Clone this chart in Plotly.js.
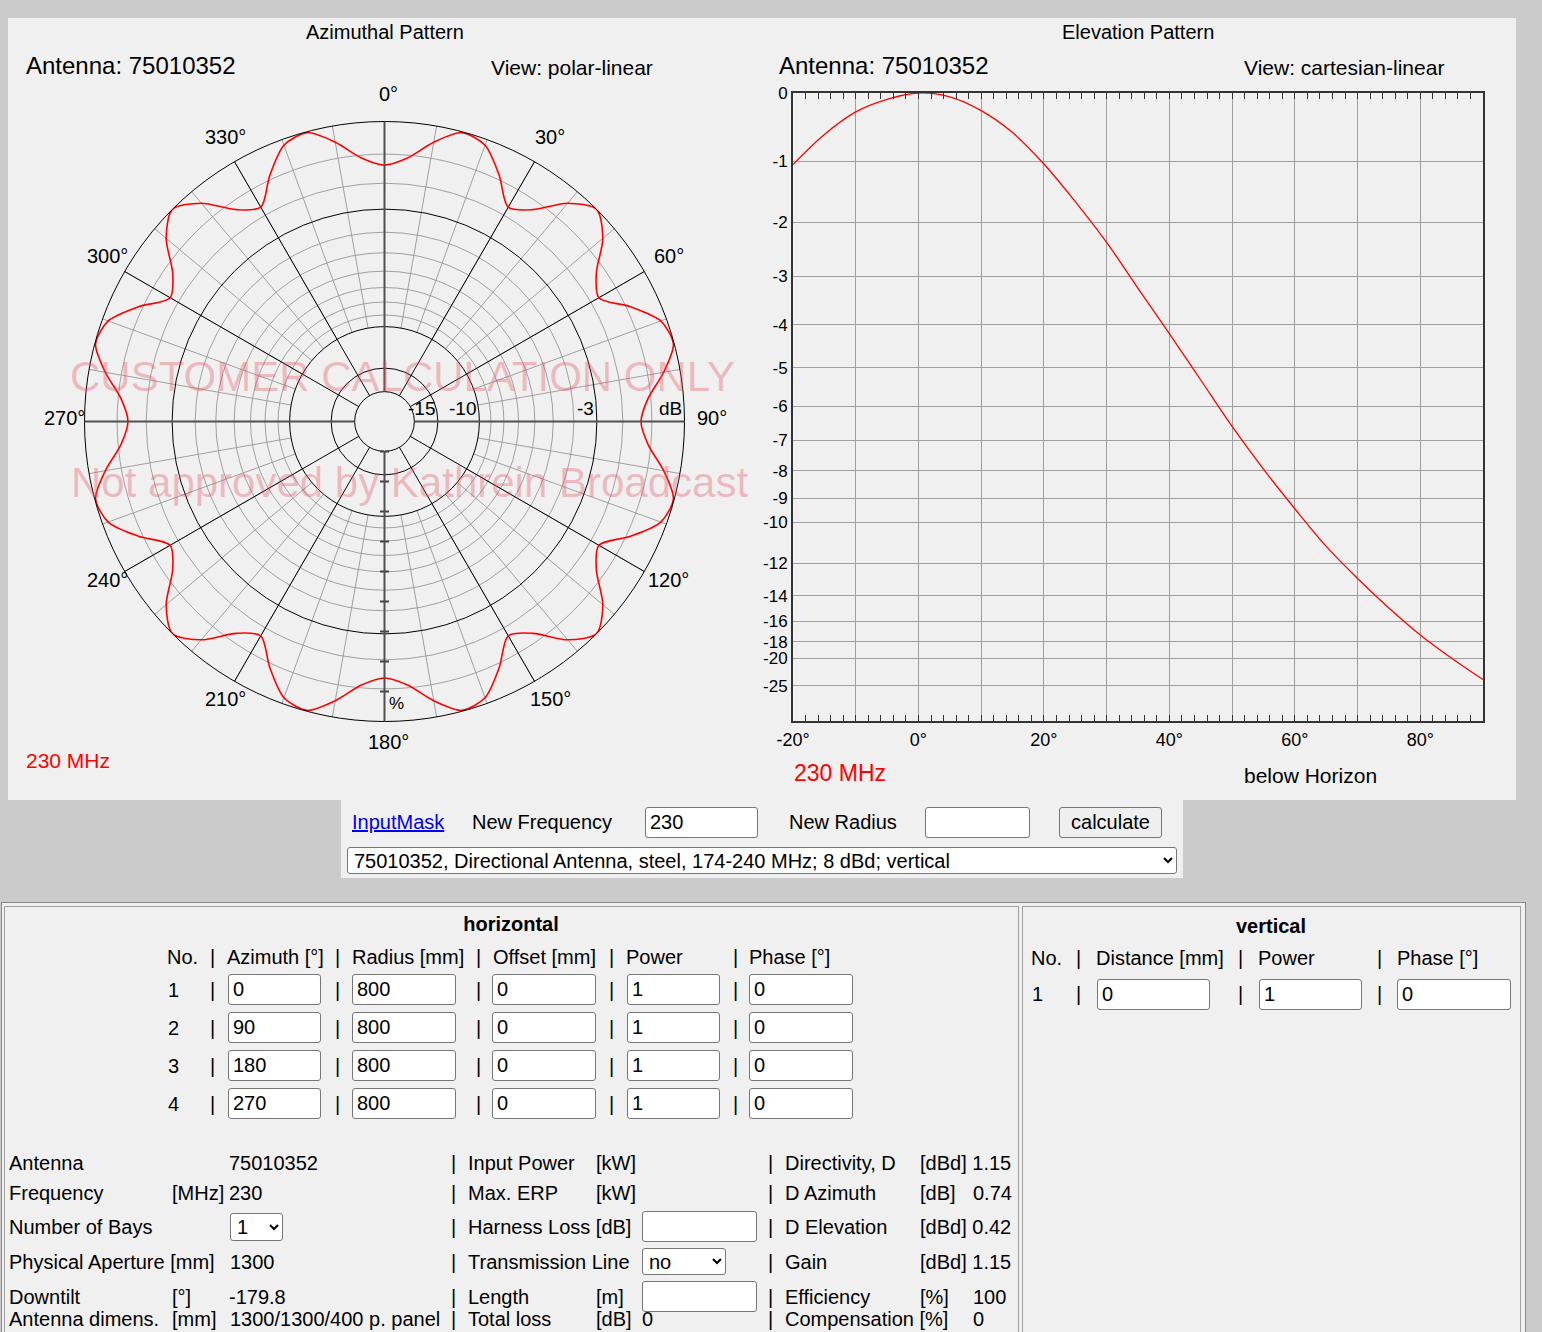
<!DOCTYPE html>
<html>
<head>
<meta charset="utf-8">
<script src="https://cdn.plot.ly/plotly-3.0.1.min.js"></script>
<style>
  html, body { margin:0; padding:0; }
  body { width:1542px; height:1332px; background:#cbcbcb; position:relative; overflow:hidden;
         font-family:'Liberation Sans', Arial, sans-serif; }
  .panel { position:absolute; background:#f0f0f0; }
  .t { position:absolute; font-size:20px; line-height:24px; white-space:pre; color:#000; }
  .inp { position:absolute; box-sizing:border-box; background:#fff; border:1px solid #767676; border-radius:3px;
         font:20px 'Liberation Sans', Arial, sans-serif; padding:0 4px; color:#000; margin:0; }
  .sel { position:absolute; box-sizing:border-box; background:#fff; border:1px solid #767676; border-radius:3px;
         font:20px 'Liberation Sans', Arial, sans-serif; padding:0 2px; color:#000; margin:0; }
  .btn { position:absolute; box-sizing:border-box; background:#efefef; border:1px solid #767676; border-radius:3px;
         font:20px 'Liberation Sans', Arial, sans-serif; color:#000; margin:0; padding:0; }
</style>
</head>
<body>
<div class="panel" style="left:8px;top:18px;width:1508px;height:782px;">
  <div id="chart" style="width:1508px;height:782px;"></div>
</div>
<div class="panel" style="left:341px;top:800px;width:842px;height:78px;"></div>
<div class="panel" style="left:1px;top:902px;width:1523px;height:440px;border:1px solid #8a8a8a;"></div>
<div class="panel" style="left:4px;top:906px;width:1013px;height:440px;border:1px solid #a0a0a0;"></div>
<div class="panel" style="left:1022px;top:906px;width:497px;height:440px;border:1px solid #a0a0a0;"></div>
<script>
// ---------------- data ----------------
const azimuthDeg = [0,5,10,15,20,25,30,35,40,45,50,55,60,65,70,75,80,85,
  90,95,100,105,110,115,120,125,130,135,140,145,150,155,160,165,170,175,
  180,185,190,195,200,205,210,215,220,225,230,235,240,245,250,255,260,265,
  270,275,280,285,290,295,300,305,310,315,320,325,330,335,340,345,350,355,360];
const azimuthRelField = [0.855,0.882,0.945,0.997,0.980,0.905,0.825,0.862,0.950,1.000,0.950,0.862,0.825,0.905,0.980,0.997,0.945,0.882,
  0.855,0.882,0.945,0.997,0.980,0.905,0.825,0.862,0.950,1.000,0.950,0.862,0.825,0.905,0.980,0.997,0.945,0.882,
  0.855,0.882,0.945,0.997,0.980,0.905,0.825,0.862,0.950,1.000,0.950,0.862,0.825,0.905,0.980,0.997,0.945,0.882,
  0.855,0.882,0.945,0.997,0.980,0.905,0.825,0.862,0.950,1.000,0.950,0.862,0.825,0.905,0.980,0.997,0.945,0.882,0.855];

const elevationDeg = [-20,-15,-10,-5,0,5,10,15,20,25,30,35,40,45,50,55,60,65,70,75,80,85,90];
const elevationRelField = [0.886,0.934,0.970,0.990,1.000,0.994,0.972,0.937,0.887,0.827,0.762,0.689,0.617,0.543,0.469,0.401,0.338,0.278,0.227,0.180,0.137,0.100,0.066];

const angularLabelDeg = [0,30,60,90,120,150,180,210,240,270,300,330];
const polarGrayRingsDb = [-1,-2,-4,-5,-6,-7,-8,-9];
const polarBlackRingsDb = [-20,-15,-10,-3];
const ringLabelDb = [-15,-10,-3,0];
const ringLabelText = ['-15','-10','-3','dB'];
const percentTicks = [0.1,0.2,0.3,0.4,0.5,0.6,0.7,0.8,0.9];

const elevXTickVals = [-20,-10,0,10,20,30,40,50,60,70,80,90];
const elevXTickText = ['-20°','','0°','','20°','','40°','','60°','','80°',''];
const elevYTickDb = [0,-1,-2,-3,-4,-5,-6,-7,-8,-9,-10,-12,-14,-16,-18,-20,-25];
const elevYTickText = ['0','-1','-2','-3','-4','-5','-6','-7','-8','-9','-10','-12','-14','-16','-18','-20','-25'];

// ---------------- helpers ----------------
const W = 1508, H = 782, OX = 8, OY = 18;
const px = X => (X - OX) / W;
const py = Y => 1 - (Y - OY) / H;
const amp = db => Math.pow(10, db / 20);
const FONT = 'Liberation Sans, Arial, sans-serif';
const polarCx = 384.5, polarCy = 421.5, polarR = 300;
const polarDomain = { x: [px(polarCx - polarR), px(polarCx + polarR)], y: [py(polarCy + polarR), py(polarCy - polarR)] };
const innerR = 0.0995;
// angular labels sit on a circle slightly offset from the plot centre, as in the original
const labelCx = 388, labelCy = 418, labelR = 324;

const traces = [
  { type:'scatterpolar', subplot:'polar', r:azimuthRelField, theta:azimuthDeg, mode:'lines',
    opacity:0, hoverinfo:'skip', showlegend:false },
  { type:'scatterpolar', subplot:'polar3', r:azimuthRelField, theta:azimuthDeg, mode:'lines',
    opacity:0, hoverinfo:'skip', showlegend:false },
  { type:'scatterpolar', subplot:'polar4', r:azimuthRelField, theta:azimuthDeg, mode:'lines',
    opacity:0, hoverinfo:'skip', showlegend:false },
  { type:'scatterpolar', subplot:'polar2', r:azimuthRelField, theta:azimuthDeg, mode:'lines',
    line:{ color:'#ff0000', width:1.6, shape:'spline', smoothing:0.8 }, showlegend:false },
  { type:'scatter', x:elevationDeg, y:elevationRelField, mode:'lines', xaxis:'x', yaxis:'y',
    line:{ color:'#ff0000', width:1.3, shape:'spline', smoothing:1 }, showlegend:false }
];

const hiddenAngular = { rotation:90, direction:'clockwise', showgrid:false, showline:false, showticklabels:false, ticks:'' };

const annotations = [
  { text:'Azimuthal Pattern', x:px(385), y:py(32), xanchor:'center', yanchor:'middle', font:{size:20} },
  { text:'Antenna: 75010352', x:px(24), y:py(66), xanchor:'left', yanchor:'middle', font:{size:24} },
  { text:'View: polar-linear', x:px(489), y:py(67), xanchor:'left', yanchor:'middle', font:{size:21} },
  { text:'230 MHz', x:px(24), y:py(760), xanchor:'left', yanchor:'middle', font:{size:21, color:'#ff0000'} },
  { text:'%', x:px(396), y:py(703), xanchor:'center', yanchor:'middle', font:{size:17} },
  { text:'Elevation Pattern', x:px(1138), y:py(32), xanchor:'center', yanchor:'middle', font:{size:20} },
  { text:'Antenna: 75010352', x:px(777), y:py(66), xanchor:'left', yanchor:'middle', font:{size:24} },
  { text:'View: cartesian-linear', x:px(1242), y:py(67), xanchor:'left', yanchor:'middle', font:{size:21} },
  { text:'230 MHz', x:px(792), y:py(773), xanchor:'left', yanchor:'middle', font:{size:23, color:'#ff0000'} },
  { text:'below Horizon', x:px(1242), y:py(775), xanchor:'left', yanchor:'middle', font:{size:21} },
  { text:'CUSTOMER CALCULATION ONLY', x:px(402), y:py(377), xanchor:'center', yanchor:'middle',
    font:{size:42, color:'rgba(228,80,92,0.34)'} },
  { text:'Not approved by Kathrein Broadcast', x:px(409), y:py(482), xanchor:'center', yanchor:'middle',
    font:{size:42, color:'rgba(228,80,92,0.34)'} }
];
angularLabelDeg.forEach(d => {
  const a = d * Math.PI / 180;
  annotations.push({ text: d + '°', x: px(labelCx + labelR * Math.sin(a)), y: py(labelCy - labelR * Math.cos(a)),
    xanchor:'center', yanchor:'middle', font:{size:20} });
});
// dB ring labels: right-aligned just inside their ring, above the 90° spoke
ringLabelDb.forEach((db, i) => {
  annotations.push({ text: ringLabelText[i], x: px(polarCx + amp(db) * polarR - 2), y: py(408),
    xanchor:'right', yanchor:'middle', font:{size:19}, borderpad:0 });
});

const layout = {
  width: W, height: H,
  margin: { l:0, r:0, t:0, b:0 },
  paper_bgcolor: '#f0f0f0', plot_bgcolor: '#f0f0f0',
  font: { family: FONT, color: '#000' },
  showlegend: false,
  polar: {
    domain: polarDomain, bgcolor: 'rgba(0,0,0,0)', hole: amp(-10),
    radialaxis: { range:[amp(-10), 1], tickmode:'array', tickvals: polarGrayRingsDb.map(amp),
      showticklabels:false, ticks:'', showline:false, gridcolor:'#a0a0a0', gridwidth:1 },
    angularaxis: { rotation:90, direction:'clockwise', tickmode:'linear', tick0:0, dtick:10,
      showticklabels:false, ticks:'', showline:false, gridcolor:'#a0a0a0', gridwidth:1 }
  },
  polar2: {
    domain: polarDomain, bgcolor: 'rgba(0,0,0,0)', hole: innerR,
    radialaxis: { range:[innerR, 1], tickmode:'array', tickvals: polarBlackRingsDb.map(amp),
      showticklabels:false, ticks:'', showline:false, gridcolor:'#000', gridwidth:1 },
    angularaxis: { rotation:90, direction:'clockwise', tickmode:'linear', tick0:0, dtick:30,
      showticklabels:false, ticks:'',
      showline:true, linecolor:'#000', linewidth:1, gridcolor:'#000', gridwidth:1 }
  },
  polar3: {
    domain: polarDomain, bgcolor: 'rgba(0,0,0,0)', hole: innerR,
    radialaxis: { range:[innerR, 1], angle:270, side:'clockwise', tickmode:'array', tickvals: percentTicks,
      showticklabels:false, ticks:'outside', ticklen:4, tickwidth:2, tickcolor:'#444', showline:false, showgrid:false },
    angularaxis: { rotation:90, direction:'clockwise', tickmode:'linear', tick0:0, dtick:90,
      showticklabels:false, ticks:'', showline:false, gridcolor:'#505050', gridwidth:2 }
  },
  polar4: {
    domain: polarDomain, bgcolor: 'rgba(0,0,0,0)', hole: innerR,
    radialaxis: { range:[innerR, 1], angle:270, side:'counterclockwise', tickmode:'array', tickvals: percentTicks,
      showticklabels:false, ticks:'outside', ticklen:4, tickwidth:2, tickcolor:'#444', showline:false, showgrid:false },
    angularaxis: hiddenAngular
  },
  xaxis: {
    domain: [px(793), px(1483)], anchor:'y', range:[-20, 90], tickmode:'array',
    tickvals: elevXTickVals, ticktext: elevXTickText,
    ticks:'inside', ticklen:6, tickcolor:'#333', tickwidth:1,
    showline:true, linecolor:'#333', linewidth:2, mirror:'ticks',
    showgrid:true, gridcolor:'#a0a0a0', gridwidth:1, zeroline:false,
    tickfont:{ size:18, color:'#000' }, ticklabelstandoff:1,
    minor:{ tickmode:'linear', tick0:0, dtick:2, ticks:'inside', ticklen:6, tickcolor:'#333', tickwidth:1, showgrid:false }
  },
  yaxis: {
    domain: [py(721), py(93)], anchor:'x', range:[0, 1], tickmode:'array',
    tickvals: elevYTickDb.map(amp), ticktext: elevYTickText,
    ticks:'', showline:true, linecolor:'#333', linewidth:2, mirror:true,
    showgrid:true, gridcolor:'#a0a0a0', gridwidth:1, zeroline:false,
    tickfont:{ size:17, color:'#000' }, ticklabelstandoff:0
  },
  annotations: annotations.map(a => Object.assign({ xref:'paper', yref:'paper', showarrow:false }, a))
};

Plotly.newPlot('chart', traces, layout, { staticPlot:true, displayModeBar:false });

// ---------------- form (page content around the charts) ----------------
function T(x, yc, s, extra) {
  const d = document.createElement('div');
  d.className = 't'; d.style.left = x + 'px'; d.style.top = (yc - 12) + 'px';
  d.textContent = s; if (extra) Object.assign(d.style, extra);
  document.body.appendChild(d); return d;
}
function I(x, y, w, h, v) {
  const e = document.createElement('input'); e.className = 'inp'; e.type = 'text'; e.value = v;
  Object.assign(e.style, { left:x+'px', top:y+'px', width:w+'px', height:h+'px' });
  document.body.appendChild(e);
}
function S(x, y, w, h, v) {
  const e = document.createElement('select'); e.className = 'sel';
  const o = document.createElement('option'); o.textContent = v; e.appendChild(o);
  Object.assign(e.style, { left:x+'px', top:y+'px', width:w+'px', height:h+'px' });
  document.body.appendChild(e);
}
// middle bar
T(352, 822, 'InputMask', { color:'#0000ee', textDecoration:'underline' });
T(472, 822, 'New Frequency');
I(645, 807, 113, 31, '230');
T(789, 822, 'New Radius');
I(925, 807, 105, 31, '');
(function(){ const b = document.createElement('button'); b.className='btn'; b.textContent='calculate';
  Object.assign(b.style, { left:'1059px', top:'807px', width:'103px', height:'31px' }); document.body.appendChild(b); })();
S(347, 847, 830, 27, '75010352, Directional Antenna, steel, 174-240 MHz; 8 dBd; vertical');

// horizontal cell
T(511, 924, 'horizontal', { fontWeight:'bold', transform:'translateX(-50%)' });
const hHead = [[167,'No.'],[210,'|'],[227,'Azimuth [°]'],[335,'|'],[352,'Radius [mm]'],[476,'|'],[493,'Offset [mm]'],[609,'|'],[626,'Power'],[733,'|'],[749,'Phase [°]']];
hHead.forEach(h => T(h[0], 957, h[1]));
const bayAzimuth = ['0','90','180','270'];
const rowsY = [974, 1012, 1050, 1088];
rowsY.forEach((y, i) => {
  const yc = y + 16;
  T(168, yc, String(i + 1));
  [210, 335, 476, 609, 733].forEach(x => T(x, yc, '|'));
  I(228, y, 93, 31, bayAzimuth[i]);
  I(352, y, 104, 31, '800');
  I(492, y, 104, 31, '0');
  I(627, y, 93, 31, '1');
  I(749, y, 104, 31, '0');
});

// vertical cell
T(1271, 926, 'vertical', { fontWeight:'bold', transform:'translateX(-50%)' });
[[1031,'No.'],[1076,'|'],[1096,'Distance [mm]'],[1238,'|'],[1258,'Power'],[1377,'|'],[1397,'Phase [°]']].forEach(h => T(h[0], 958, h[1]));
T(1032, 994, '1'); T(1076, 994, '|'); T(1238, 994, '|'); T(1377, 994, '|');
I(1097, 979, 113, 31, '0'); I(1259, 979, 103, 31, '1'); I(1397, 979, 114, 31, '0');

// info rows
const infoY = [1163, 1193, 1227, 1262, 1297, 1319];
T(9, infoY[0], 'Antenna'); T(229, infoY[0], '75010352');
T(9, infoY[1], 'Frequency'); T(172, infoY[1], '[MHz]'); T(229, infoY[1], '230');
T(9, infoY[2], 'Number of Bays'); S(230, 1213, 53, 28, '1');
T(9, infoY[3], 'Physical Aperture [mm]'); T(230, infoY[3], '1300');
T(9, infoY[4], 'Downtilt'); T(172, infoY[4], '[°]'); T(229, infoY[4], '-179.8');
T(9, infoY[5], 'Antenna dimens.'); T(172, infoY[5], '[mm]'); T(230, infoY[5], '1300/1300/400 p. panel');
infoY.forEach(y => { T(451, y, '|'); T(768, y, '|'); });
T(468, infoY[0], 'Input Power'); T(596, infoY[0], '[kW]');
T(468, infoY[1], 'Max. ERP'); T(596, infoY[1], '[kW]');
T(468, infoY[2], 'Harness Loss [dB]'); I(642, 1211, 115, 31, '');
T(468, infoY[3], 'Transmission Line'); S(642, 1248, 84, 27, 'no');
T(468, infoY[4], 'Length'); T(596, infoY[4], '[m]'); I(642, 1281, 115, 31, '');
T(468, infoY[5], 'Total loss'); T(596, infoY[5], '[dB]'); T(642, infoY[5], '0');
T(785, infoY[0], 'Directivity, D'); T(920, infoY[0], '[dBd] 1.15');
T(785, infoY[1], 'D Azimuth'); T(920, infoY[1], '[dB]'); T(973, infoY[1], '0.74');
T(785, infoY[2], 'D Elevation'); T(920, infoY[2], '[dBd] 0.42');
T(785, infoY[3], 'Gain'); T(920, infoY[3], '[dBd] 1.15');
T(785, infoY[4], 'Efficiency'); T(920, infoY[4], '[%]'); T(973, infoY[4], '100');
T(785, infoY[5], 'Compensation [%]'); T(973, infoY[5], '0');
</script>
</body>
</html>
